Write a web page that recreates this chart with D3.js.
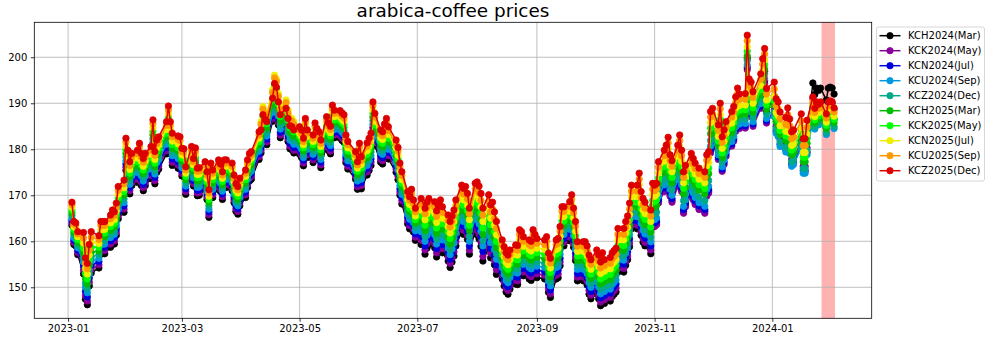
<!DOCTYPE html>
<html>
<head>
<meta charset="utf-8">
<script src="https://cdn.jsdelivr.net/npm/d3@7"></script>
<style>
body { margin: 0; background: #fff; }
svg { display: block; }
text { font-family: "DejaVu Sans", sans-serif; }
</style>
</head>
<body>
<svg id="chart" width="995" height="342"></svg>
<script>
// contracts, bottom to top in the legend order
var contracts = ["KCH2024(Mar)", "KCK2024(May)", "KCN2024(Jul)", "KCU2024(Sep)", "KCZ2024(Dec)",
                 "KCH2025(Mar)", "KCK2025(May)", "KCN2025(Jul)", "KCU2025(Sep)", "KCZ2025(Dec)"];
var colors = ["#000000", "#880099", "#0000dd", "#0099dd", "#00aa88",
              "#00bb00", "#00ff00", "#eeee00", "#ff9900", "#dd0000"];

var firstDay = "2023-01-03";
var lastDay = "2024-02-02";
var holidays = ["2023-01-16", "2023-02-20", "2023-04-07", "2023-05-29", "2023-06-19", "2023-07-04",
                "2023-09-04", "2023-11-23", "2023-12-25", "2024-01-01", "2024-01-15"];

// KCZ2025 settle, one value per trading day
var kcz2025 = [
	// 2023-01
	168.5, 164.3, 164.0, 162.1, 161.9, 156.4, 155.2, 159.3, 162.1, 161.2, 164.3, 164.3, 164.3, 165.7, 166.8, 166.4, 168.3, 171.9, 173.3, 182.4,
	// 2023-02
	179.8, 177.3, 179.1, 179.8, 181.3, 179.1, 178.0, 179.1, 180.6, 186.4, 179.5, 182.0, 182.7, 186.0, 189.4, 186.0, 183.5, 182.9, 182.7,
	// 2023-03
	180.2, 180.1, 176.2, 180.6, 178.0, 180.3, 175.9, 176.0, 177.3, 175.1, 171.2, 177.0, 175.5, 177.7, 176.8, 175.1, 177.7, 177.7, 177.0, 174.4, 172.5, 171.9, 173.7,
	// 2023-04
	175.5, 177.7, 179.1, 179.5, 183.8, 184.2, 187.5, 186.5, 186.0, 191.1, 194.3, 193.5, 190.3, 187.5, 188.9, 186.7, 185.1, 184.9, 184.2,
	// 2023-05
	184.9, 184.2, 182.4, 186.7, 184.2, 183.1, 185.7, 184.5, 183.8, 182.0, 187.1, 185.7, 185.0, 189.6, 188.5, 188.4, 187.9, 187.5, 183.1, 181.7, 179.5, 177.3,
	// 2023-06
	181.3, 178.4, 181.4, 182.4, 183.5, 190.3, 187.8, 184.2, 183.8, 185.5, 186.7, 184.9, 182.0, 180.4, 177.0, 175.1, 170.8, 169.7, 171.3, 169.0, 167.2,
	// 2023-07
	169.3, 167.2, 168.5, 169.3, 168.6, 166.6, 167.8, 169.0, 167.5, 165.7, 164.3, 165.5, 166.8, 169.0, 172.2, 171.5, 171.9, 170.4, 167.2, 172.6,
	// 2023-08
	172.9, 172.0, 170.4, 167.2, 170.1, 167.9, 168.5, 166.4, 164.3, 160.3, 158.8, 157.5, 157.0, 158.1, 159.2, 159.1, 162.5, 162.1, 161.0, 160.3, 160.0, 162.5, 161.5,
	// 2023-09
	160.6, 160.3, 161.0, 157.4, 156.3, 160.3, 160.6, 163.2, 167.5, 167.5, 168.6, 170.1, 167.2, 164.3, 159.9, 159.9, 159.9, 159.0, 157.0, 156.0,
	// 2023-10
	158.1, 157.0, 155.5, 157.5, 156.0, 156.5, 157.5, 158.0, 158.5, 162.8, 162.8, 164.3, 165.5, 168.3, 172.2, 172.2, 174.8, 170.8, 169.3, 168.5, 166.8, 172.6,
	// 2023-11
	172.2, 172.6, 177.3, 179.8, 180.9, 182.6, 178.8, 177.5, 180.9, 183.1, 179.8, 175.1, 176.5, 179.1, 178.0, 177.0, 175.9, 175.1, 178.8, 179.5, 188.2,
	// 2023-12
	188.9, 185.3, 190.0, 182.7, 184.2, 186.0, 188.2, 189.3, 191.4, 193.3, 192.0, 192.1, 204.8, 195.3, 194.6, 192.5, 196.4, 199.7, 201.9, 193.2,
	// 2024-01 / 02
	194.6, 191.0, 190.3, 188.1, 186.9, 189.0, 186.6, 183.8, 184.2, 187.7, 182.3, 182.3, 186.3, 191.4, 188.9, 190.3, 189.8, 190.3, 187.7, 190.3, 190.5, 190.3, 189.0
];

// spread of each contract below KCZ2025, per period
var periodStarts = ["2023-01-01", "2023-01-09", "2023-01-17", "2023-03-01", "2023-04-11", "2023-04-29", "2023-06-01", "2023-07-01",
                    "2023-08-01", "2023-08-14", "2023-10-01", "2023-11-01", "2023-12-01", "2024-01-01", "2024-01-22"];
var spreadKCH2024 = [5.0, 9.0, 7.0, 6.0, 5.0, 6.0, 7.0, 10.0, 11.5, 8.5, 9.5, 8.6, 5.0, 3.0, -3.0];
var spreadKCK2024 = [4.5, 8.2, 6.3, 5.4, 4.4, 5.4, 6.3, 9.1, 10.5, 7.7, 8.7, 9.0, 7.5, 6.0, 0.3];
var spreadKCN2024 = [4.0, 7.3, 5.6, 4.8, 3.8, 4.8, 5.6, 8.2, 9.4, 6.9, 7.8, 8.2, 7.0, 7.0, 2.5];
var spreadKCU2024 = [3.5, 6.4, 4.9, 4.2, 3.1, 4.2, 4.9, 7.2, 8.2, 6.0, 6.9, 7.5, 6.5, 7.5, 4.5];
var spreadKCZ2024 = [2.9, 5.5, 4.1, 3.5, 2.3, 3.5, 4.1, 6.1, 7.0, 5.1, 5.9, 6.3, 5.5, 6.5, 4.0];
var spreadKCH2025 = [2.3, 4.5, 3.3, 2.8, 1.4, 2.8, 3.3, 4.9, 5.7, 4.1, 4.8, 4.8, 4.5, 5.0, 3.2];
var spreadKCK2025 = [1.7, 3.4, 2.5, 2.1, 0.4, 2.1, 2.5, 3.7, 4.3, 3.1, 3.7, 3.6, 3.5, 4.0, 2.5];
var spreadKCN2025 = [1.1, 2.3, 1.7, 1.4, -1.8, 1.4, 1.7, 2.5, 2.9, 2.1, 2.5, 2.4, 2.5, 3.0, 1.8];
var spreadKCU2025 = [0.5, 1.2, 0.8, 0.7, -1.2, 0.7, 0.8, 1.2, 1.5, 1.0, 1.3, 1.2, 1.2, 1.5, 0.9];
var spreadKCZ2025 = [0, 0, 0, 0, 0, 0, 0, 0, 0, 0, 0, 0, 0, 0, 0];

var xTicks = ["2023-01-01", "2023-03-01", "2023-05-01", "2023-07-01", "2023-09-01", "2023-11-01", "2024-01-01"];
var yTicks = [150, 160, 170, 180, 190, 200];
var highlight = ["2024-01-26T12:00", "2024-02-02T12:00"];

var parse = d3.timeParse("%Y-%m-%d");
var fmt = d3.timeFormat("%Y-%m-%d");

var m = {left: 34.3, right: 871.7, top: 22.3, bottom: 318.3};

var svg = d3.select("#chart");

var x = d3.scaleTime()
	.domain([new Date(2022, 11, 14, 12), new Date(2024, 1, 21, 12)])
	.range([m.left, m.right]);
var y = d3.scaleLinear()
	.domain([143.26, 207.6])
	.range([m.bottom, m.top]);

// trading days
var off = {};
holidays.forEach(function(h){ off[h] = true; });
var days = d3.timeDay.range(parse(firstDay), d3.timeDay.offset(parse(lastDay), 1))
	.filter(function(d){ return d.getDay() != 0 && d.getDay() != 6 && !off[fmt(d)]; });
if (days.length != kcz2025.length) console.log("length mismatch", days.length, kcz2025.length);

var starts = periodStarts.map(parse);
var spreads = [spreadKCH2024, spreadKCK2024, spreadKCN2024, spreadKCU2024, spreadKCZ2024,
               spreadKCH2025, spreadKCK2025, spreadKCN2025, spreadKCU2025, spreadKCZ2025];
var periodOf = function(d){
	return d3.bisectRight(starts, d) - 1;
}

var series = contracts.map(function(name, k){
	return days.map(function(d, i){
		return {date: d, value: kcz2025[i] - spreads[k][periodOf(d)]};
	});
});

// highlight band
var hs = highlight.map(function(s){ return new Date(s); });
svg.append("rect")
	.attr("x", x(hs[0]))
	.attr("y", m.top)
	.attr("width", x(hs[1]) - x(hs[0]))
	.attr("height", m.bottom - m.top)
	.attr("fill", "#ff0000")
	.attr("fill-opacity", 0.3);

// grid
var grid = svg.append("g");
xTicks.forEach(function(t){
	grid.append("line")
		.attr("x1", x(parse(t))).attr("x2", x(parse(t)))
		.attr("y1", m.top).attr("y2", m.bottom)
		.attr("stroke", "#b0b0b0").attr("stroke-width", 0.8);
});
yTicks.forEach(function(t){
	grid.append("line")
		.attr("x1", m.left).attr("x2", m.right)
		.attr("y1", y(t)).attr("y2", y(t))
		.attr("stroke", "#b0b0b0").attr("stroke-width", 0.8);
});

// series
svg.append("clipPath").attr("id", "clip")
	.append("rect")
	.attr("x", m.left).attr("y", m.top)
	.attr("width", m.right - m.left).attr("height", m.bottom - m.top);

var line = d3.line()
	.x(function(d){ return x(d.date); })
	.y(function(d){ return y(d.value); });

var plot = svg.append("g").attr("clip-path", "url(#clip)");
series.forEach(function(s, k){
	var g = plot.append("g");
	g.append("path")
		.datum(s)
		.attr("d", line)
		.attr("fill", "none")
		.attr("stroke", colors[k])
		.attr("stroke-width", 1.5)
		.attr("stroke-linejoin", "round");
	g.selectAll("circle")
		.data(s)
		.enter().append("circle")
		.attr("cx", function(d){ return x(d.date); })
		.attr("cy", function(d){ return y(d.value); })
		.attr("r", 3.2)
		.attr("fill", colors[k])
		.attr("stroke", colors[k])
		.attr("stroke-width", 0.8);
});

// axes
var xAxis = d3.axisBottom(x)
	.tickValues(xTicks.map(parse))
	.tickFormat(d3.timeFormat("%Y-%m"))
	.tickSize(3.5)
	.tickPadding(3.5);
var gx = svg.append("g")
	.attr("transform", "translate(0," + m.bottom + ")")
	.call(xAxis);
var yAxis = d3.axisLeft(y)
	.tickValues(yTicks)
	.tickSize(3.5)
	.tickPadding(3.5);
var gy = svg.append("g")
	.attr("transform", "translate(" + m.left + ",0)")
	.call(yAxis);
[gx, gy].forEach(function(g){
	g.select(".domain").remove();
	g.selectAll(".tick line").attr("stroke", "#000").attr("stroke-width", 0.8);
	g.selectAll(".tick text")
		.attr("fill", "#000")
		.style("font-family", "'DejaVu Sans', sans-serif")
		.style("font-size", "10px");
});

// frame
svg.append("rect")
	.attr("x", m.left).attr("y", m.top)
	.attr("width", m.right - m.left).attr("height", m.bottom - m.top)
	.attr("fill", "none")
	.attr("stroke", "#000")
	.attr("stroke-width", 0.8);

// title
svg.append("text")
	.attr("x", (m.left + m.right) / 2)
	.attr("y", 17)
	.attr("text-anchor", "middle")
	.style("font-size", "18.4px")
	.attr("fill", "#000")
	.text("arabica-coffee prices");

// legend
var lg = svg.append("g");
lg.append("rect")
	.attr("x", 876.5).attr("y", 27)
	.attr("width", 108).attr("height", 154)
	.attr("rx", 2)
	.attr("fill", "#fff").attr("fill-opacity", 0.8)
	.attr("stroke", "#cccccc").attr("stroke-width", 0.8);
contracts.forEach(function(name, k){
	var ly = 35.7 + k * 15;
	lg.append("line")
		.attr("x1", 879.5).attr("x2", 900.5)
		.attr("y1", ly).attr("y2", ly)
		.attr("stroke", colors[k]).attr("stroke-width", 1.5);
	lg.append("circle")
		.attr("cx", 890).attr("cy", ly).attr("r", 3.2)
		.attr("fill", colors[k]).attr("stroke", colors[k]).attr("stroke-width", 0.8);
	lg.append("text")
		.attr("x", 908).attr("y", ly)
		.attr("dy", "0.36em")
		.style("font-size", "10px")
		.attr("fill", "#000")
		.text(name);
});
</script>
</body>
</html>
